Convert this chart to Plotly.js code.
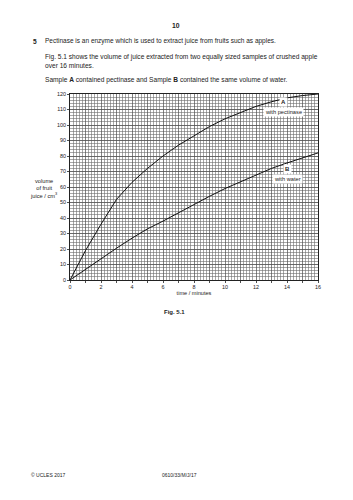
<!DOCTYPE html>
<html>
<head>
<meta charset="utf-8">
<script src="https://cdn.plot.ly/plotly-3.0.1.min.js"></script>
<style>html,body{margin:0;padding:0;background:#fff;}#chart{width:353px;height:500px;}</style>
</head>
<body>
<div id="chart"></div>
<script>
// time / minutes
const time = [0,1,2,3,4,5,6,7,8,9,10,11,12,13,14,15,16];
// volume of fruit juice / cm3, sample A (with pectinase)
const volumeA = [0,19,36,52,63,72,80,87,93,99,104,108,112,115,117.5,119,120];
// volume of fruit juice / cm3, sample B (with water)
const volumeB = [0,7,14,20.5,27,33,38,43.5,49,54,59,63.5,68,72,75.5,79,82];
const yTicks = [0,10,20,30,40,50,60,70,80,90,100,110,120];

const L = 70, T = 94, W = 248, H = 186;
const px = x => (x - L) / W;
const py = y => (T + H - y) / H;
const FONT = 'Liberation Sans, Arial, sans-serif';
const txt = '#222';

function ann(text, x, y, xanchor, size, extra) {
  return Object.assign({
    text: text, xref: 'paper', yref: 'paper', x: px(x), y: py(y),
    xanchor: xanchor, yanchor: 'middle', showarrow: false,
    font: {family: FONT, size: size, color: txt}
  }, extra || {});
}

const traces = [
  {x: time, y: volumeA, type: 'scatter', mode: 'lines', name: 'A',
   line: {color: '#111', width: 1}, hoverinfo: 'skip'},
  {x: time, y: volumeB, type: 'scatter', mode: 'lines', name: 'B',
   line: {color: '#111', width: 1}, hoverinfo: 'skip'}
];

const layout = {
  width: 353, height: 500,
  margin: {l: L, r: 353 - L - W, t: T, b: 500 - T - H, pad: 0},
  paper_bgcolor: '#fff', plot_bgcolor: '#fff',
  showlegend: false,
  font: {family: FONT, color: txt},
  xaxis: {
    range: [0, 16], tick0: 0, dtick: 1, ticklabelstep: 2,
    showgrid: true, gridcolor: '#505050', gridwidth: 0.7,
    minor: {dtick: 0.2, showgrid: true, gridcolor: '#6e6e6e', gridwidth: 0.6},
    zeroline: false, showline: true, linecolor: '#222', linewidth: 1, mirror: true,
    ticks: 'outside', ticklen: 2, tickcolor: '#222', tickwidth: 0.8,
    tickfont: {family: FONT, size: 5.4, color: txt},
    title: {text: 'time / minutes', font: {family: FONT, size: 5.6, color: txt}, standoff: 1},
    fixedrange: true
  },
  yaxis: {
    range: [0, 120], tickmode: 'array', tickvals: yTicks,
    showgrid: true, gridcolor: '#505050', gridwidth: 0.7,
    minor: {dtick: 2, tick0: 0, showgrid: true, gridcolor: '#6e6e6e', gridwidth: 0.6},
    zeroline: false, showline: true, linecolor: '#222', linewidth: 1, mirror: true,
    ticks: 'outside', ticklen: 2, tickcolor: '#222', tickwidth: 0.8,
    tickfont: {family: FONT, size: 5.4, color: txt},
    fixedrange: true
  },
  annotations: [
    ann('<b>10</b>', 176, 25, 'center', 6.8),
    ann('<b>5</b>', 31, 41, 'left', 6.6),
    ann('Pectinase is an enzyme which is used to extract juice from fruits such as apples.', 43, 41, 'left', 6.5),
    ann('Fig. 5.1 shows the volume of juice extracted from two equally sized samples of crushed apple', 43, 57, 'left', 6.6),
    ann('over 16 minutes.', 43, 65.7, 'left', 6.6),
    ann('Sample <b>A</b> contained pectinase and Sample <b>B</b> contained the same volume of water.', 43, 80, 'left', 6.6),
    ann('volume<br>of fruit<br>juice / cm<sup>3</sup>', 44, 188.5, 'center', 5.7, {align: 'center'}),
    ann('<b>Fig. 5.1</b>', 174, 312, 'center', 6),
    ann('© UCLES 2017', 29, 475, 'left', 5),
    ann('0610/33/M/J/17', 160, 475, 'left', 5),
    {text: '<b>A</b>', xref: 'x', yref: 'y', x: 13.75, y: 115, showarrow: false,
     xanchor: 'center', yanchor: 'middle', bgcolor: '#fff', borderpad: 1,
     font: {family: FONT, size: 6, color: txt}},
    {text: 'with pectinase', xref: 'x', yref: 'y', x: 13.75, y: 108.5, showarrow: false,
     xanchor: 'center', yanchor: 'middle', bgcolor: '#fff', borderpad: 1,
     font: {family: FONT, size: 5.7, color: txt}},
    {text: '<b>B</b>', xref: 'x', yref: 'y', x: 14.05, y: 71.4, showarrow: false,
     xanchor: 'center', yanchor: 'middle', bgcolor: '#fff', borderpad: 1,
     font: {family: FONT, size: 6, color: txt}},
    {text: 'with water', xref: 'x', yref: 'y', x: 14.05, y: 65.2, showarrow: false,
     xanchor: 'center', yanchor: 'middle', bgcolor: '#fff', borderpad: 1,
     font: {family: FONT, size: 5.7, color: txt}}
  ]
};

Plotly.newPlot('chart', traces, layout, {staticPlot: true, displayModeBar: false});
</script>
</body>
</html>
